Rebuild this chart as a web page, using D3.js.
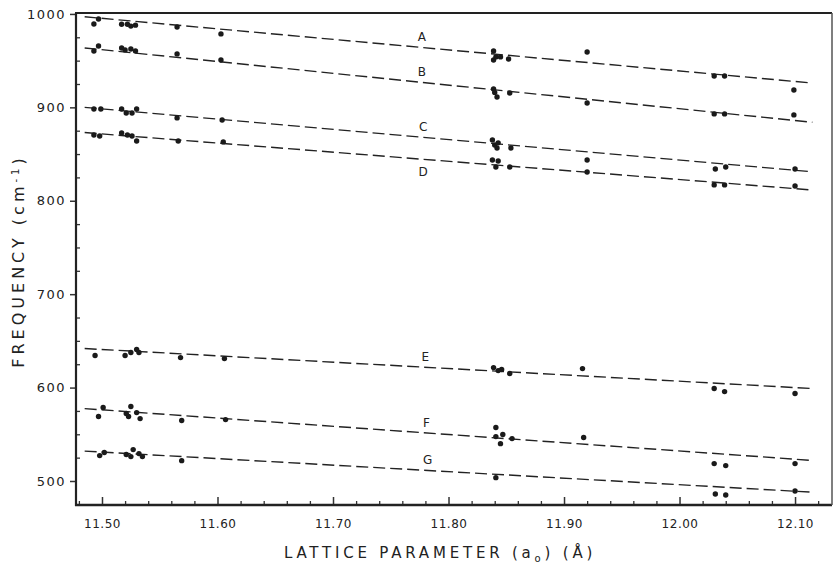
<!doctype html>
<meta charset="utf-8">
<script src="https://d3js.org/d3.v7.min.js"></script>
<style>
  body { margin: 0; background: #fff; }
  text { font-family: "DejaVu Sans", sans-serif; fill: #222; }
</style>
<body></body>
<script>

var width = 836;
var height = 564;

// fitted lines, from x = 11.485 to x = 12.115
var labels = ["A", "B", "C", "D", "E", "F", "G"];
var fitStart = [997, 963.6, 900, 873, 641.8, 577.5, 532];
var fitEnd = [926, 884, 831, 811.5, 599, 522, 488];
var fitX = [11.485, 12.115];
var labelX = [11.777, 11.777, 11.778, 11.778, 11.78, 11.781, 11.782];
var labelBelow = [false, false, false, true, false, false, false];

var pointsA = [[11.493,989.3],[11.497,994.6],[11.517,989],[11.522,989],[11.525,987],[11.529,988],[11.565,986],[11.603,978.6],
  [11.839,960.4],[11.839,950.7],[11.841,954],[11.845,954],[11.852,951.8],[11.92,959.3],[12.03,933.6],[12.039,933.6],[12.099,918.6]];
var pointsB = [[11.493,960.4],[11.497,965.7],[11.517,963.6],[11.520,961.5],[11.525,962.5],[11.529,960.4],[11.565,957.2],[11.603,950.7],
  [11.839,919.7],[11.840,916],[11.842,911],[11.853,915.4],[11.92,904.7],[12.03,893],[12.039,893],[12.099,891.9]];
var pointsC = [[11.493,898.3],[11.499,898.3],[11.517,898.3],[11.521,894],[11.526,894],[11.530,898.3],[11.565,888.7],[11.604,886.5],
  [11.838,865],[11.840,859.7],[11.842,856.5],[11.843,862],[11.854,856.5],[11.92,843.7],[12.031,834],[12.040,836.2],[12.100,834]];
var pointsD = [[11.493,870.4],[11.498,869.4],[11.517,872.6],[11.522,870.4],[11.526,869.4],[11.530,864],[11.566,864],[11.605,863],
  [11.838,843.7],[11.843,842.6],[11.841,836.2],[11.853,836.2],[11.92,830.8],[12.03,817],[12.039,817],[12.100,815.8]];
var pointsE = [[11.494,634.3],[11.520,634.3],[11.525,637.5],[11.530,640.7],[11.532,637.5],[11.568,632.1],[11.606,631],
  [11.839,621.4],[11.843,618.2],[11.846,619.3],[11.853,615],[11.916,620.3],[12.030,599],[12.039,595.7],[12.100,593.6]];
var pointsF = [[11.497,569],[11.501,578.6],[11.521,572.2],[11.523,569],[11.525,579.7],[11.530,573.2],[11.533,566.8],[11.569,564.7],[11.607,565.7],
  [11.841,557.2],[11.841,547.5],[11.847,549.7],[11.845,540],[11.855,545.4],[11.917,546.5],[12.030,518.6],[12.040,516.5],[12.100,518.6]];
var pointsG = [[11.498,527.2],[11.502,530.5],[11.521,528.3],[11.525,526.1],[11.527,533.6],[11.532,529.3],[11.535,526.1],[11.569,521.8],
  [11.841,503.6],[12.031,486.1],[12.040,485],[12.100,489.3]];
var allPoints = [pointsA, pointsB, pointsC, pointsD, pointsE, pointsF, pointsG];

var xMajor = [11.5, 11.6, 11.7, 11.8, 11.9, 12.0, 12.1];
var xTickLabels = ["11.50", "11.60", "11.70", "11.80", "11.90", "12.00", "12.10"];
var yMajor = [500, 600, 700, 800, 900, 1000];

var plotLeft = 76, plotRight = 832, plotTop = 13, plotBottom = 505;

var x = d3.scaleLinear().domain([11.4775, 12.132]).range([plotLeft, plotRight]);
var y = d3.scaleLinear().domain([474.3, 1001]).range([plotBottom, plotTop]);

var svg = d3.select("body").append("svg")
    .attr("width", width)
    .attr("height", height);

// minor ticks (inside)
var xMinor = d3.range(11.48, 12.1301, 0.02).filter(function(v){
    return Math.abs(Math.round(v * 10) / 10 - v) > 0.001;
});
svg.append("g")
    .attr("transform", "translate(0," + plotBottom + ")")
    .call(d3.axisBottom(x).tickValues(xMinor).tickSize(-4).tickFormat(""))
    .call(function(g){ g.select(".domain").remove(); })
    .selectAll("line").attr("stroke", "#333").attr("stroke-width", 1.3);

svg.append("g")
    .attr("transform", "translate(0," + plotBottom + ")")
    .call(d3.axisBottom(x).tickValues(xMajor).tickSize(-8).tickPadding(14)
        .tickFormat(function(d, i){ return xTickLabels[i]; }))
    .call(function(g){ g.select(".domain").remove(); })
    .call(function(g){
        g.selectAll("line").attr("stroke", "#333").attr("stroke-width", 1.5);
        g.selectAll("text").style("font-size", "12px").style("letter-spacing", "0.5px")
            .attr("fill", "#333");
    });

var yMinor = d3.range(475, 1000, 25).filter(function(v){ return v % 100 != 0; });
svg.append("g")
    .attr("transform", "translate(" + plotLeft + ",0)")
    .call(d3.axisLeft(y).tickValues(yMinor).tickSize(-4).tickFormat(""))
    .call(function(g){ g.select(".domain").remove(); })
    .selectAll("line").attr("stroke", "#333").attr("stroke-width", 1.3);

svg.append("g")
    .attr("transform", "translate(" + plotLeft + ",0)")
    .call(d3.axisLeft(y).tickValues(yMajor).tickSize(6).tickPadding(4).tickFormat(d3.format("d")))
    .call(function(g){ g.select(".domain").remove(); })
    .call(function(g){
        g.selectAll("line").attr("stroke", "#333").attr("stroke-width", 1.5);
        g.selectAll("text").style("font-size", "13px").style("letter-spacing", "1.5px")
            .attr("fill", "#333");
    });

// frame
svg.append("line").attr("x1", plotLeft).attr("x2", plotLeft).attr("y1", plotTop).attr("y2", plotBottom + 1)
    .attr("stroke", "#222").attr("stroke-width", 2.2);
svg.append("line").attr("x1", plotLeft - 1).attr("x2", plotRight).attr("y1", plotBottom).attr("y2", plotBottom)
    .attr("stroke", "#222").attr("stroke-width", 2.5);
svg.append("line").attr("x1", plotLeft - 1).attr("x2", plotRight).attr("y1", plotTop).attr("y2", plotTop)
    .attr("stroke", "#222").attr("stroke-width", 2);
svg.append("line").attr("x1", plotRight).attr("x2", plotRight).attr("y1", plotTop).attr("y2", plotBottom)
    .attr("stroke", "#555").attr("stroke-width", 1.5);

// dashed fit lines, points and letters
labels.forEach(function(name, i){
    svg.append("line")
        .attr("x1", x(fitX[0])).attr("y1", y(fitStart[i]))
        .attr("x2", x(fitX[1])).attr("y2", y(fitEnd[i]))
        .attr("stroke", "#222")
        .attr("stroke-width", 1.4)
        .attr("stroke-dasharray", "12,5");

    svg.selectAll(".pt" + name)
        .data(allPoints[i])
        .enter()
        .append("circle")
        .attr("cx", function(d){ return x(d[0]); })
        .attr("cy", function(d){ return y(d[1]); })
        .attr("r", 2.7)
        .attr("fill", "#1a1a1a");

    var t = (labelX[i] - fitX[0]) / (fitX[1] - fitX[0]);
    var ly = fitStart[i] + t * (fitEnd[i] - fitStart[i]);
    svg.append("text")
        .attr("x", x(labelX[i]))
        .attr("y", labelBelow[i] ? y(ly) + 17 : y(ly) - 6)
        .attr("text-anchor", "middle")
        .style("font-size", "12px")
        .text(name);
});

// axis titles
var xt = svg.append("text")
    .attr("x", 440)
    .attr("y", 558)
    .attr("text-anchor", "middle")
    .style("font-size", "15px")
    .style("letter-spacing", "3.8px")
    .attr("fill", "#333");
xt.append("tspan").text("LATTICE PARAMETER (a");
xt.append("tspan").attr("dy", 4).style("font-size", "10px").text("o");
xt.append("tspan").attr("dy", -4).text(") (Å)");

var yt = svg.append("text")
    .attr("transform", "translate(24,261) rotate(-90)")
    .attr("text-anchor", "middle")
    .style("font-size", "16px")
    .style("letter-spacing", "4px")
    .attr("fill", "#333");
yt.append("tspan").text("FREQUENCY (cm");
yt.append("tspan").attr("dy", -5).style("font-size", "10px").text("-1");
yt.append("tspan").attr("dy", 5).text(")");

</script>
